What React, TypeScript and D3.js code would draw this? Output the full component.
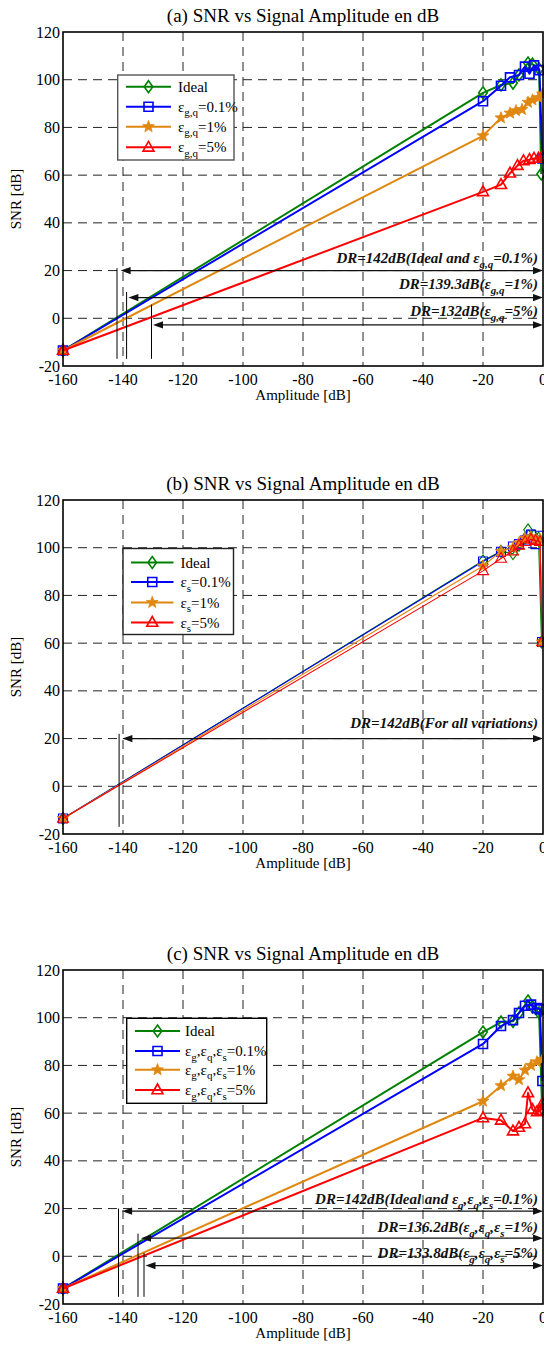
import React from "react";
import * as d3 from "d3";

const W = 544;
const H = 1345;
const FONT = "'Liberation Serif', 'Times New Roman', serif";

const X_DOMAIN = [-160, 0];
const Y_DOMAIN = [-20, 120];
const xTicks = [-160, -140, -120, -100, -80, -60, -40, -20, 0];
const yTicks = [-20, 0, 20, 40, 60, 80, 100, 120];
const xGrid = [-140, -120, -100, -80, -60, -40, -20];
const yGrid = [0, 20, 40, 60, 80, 100];

const titles = [
  "(a) SNR vs Signal Amplitude en dB",
  "(b) SNR vs Signal Amplitude en dB",
  "(c) SNR vs Signal Amplitude en dB",
];
const xLabel = "Amplitude [dB]";
const yLabel = "SNR [dB]";

// ---------- Panel (a) ----------
const aIdealX = [-160, -20, -14, -10, -8, -5, -3.5, -1.3, -0.6];
const aIdealY = [-13.5, 94.5, 97.8, 98.6, 102, 107, 106.5, 104.5, 60.5];
const aBlueX = [-160, -20, -14, -11, -8, -6, -4.5, -3, -1.2, -0.2];
const aBlueY = [-13.5, 91, 97.5, 101, 102, 105.5, 102.5, 106, 104, 67];
const aOrangeX = [-160, -20, -14, -11, -9, -7, -5, -3.5, -1.5, -0.2];
const aOrangeY = [-13.5, 76.5, 84, 86, 87, 87.5, 90.5, 91.5, 92.5, 94];
const aRedX = [-160, -20, -14, -11, -8.5, -6.5, -4.5, -3, -1.5, -0.2];
const aRedY = [-13.5, 53, 56, 60.8, 64, 66, 66.5, 67, 67, 68];

// ---------- Panel (b) ----------
const bIdealX = [-160, -20, -14, -10, -8, -6, -5, -3, -1.5, -0.5];
const bIdealY = [-13.5, 94.5, 98.5, 97.5, 101, 104, 107.5, 105, 104, 60.5];
const bBlueX = [-160, -20, -14, -10, -8, -6, -4, -2.5, -1, -0.3];
const bBlueY = [-13.5, 94.2, 98.3, 100.5, 101.5, 103, 105.5, 101.5, 105, 60.5];
const bOrangeX = [-160, -20, -14, -10, -8, -6, -4, -2.5, -1, -0.3];
const bOrangeY = [-13.5, 92.3, 98.5, 100, 102, 104, 104.5, 103.5, 103.5, 60.5];
const bRedX = [-160, -20, -14, -10, -8, -6, -4, -2.5, -1, -0.3];
const bRedY = [-13.5, 90.3, 95.5, 98.6, 101, 102.5, 103.5, 103, 102.5, 60.5];

// ---------- Panel (c) ----------
const cIdealX = [-160, -20, -14, -10, -8, -5, -3.5, -1.3, -0.3];
const cIdealY = [-13.5, 94, 98.2, 98.5, 102, 107, 104.5, 102, 62];
const cBlueX = [-160, -20, -14, -10, -8, -6, -4, -2, -1, -0.2];
const cBlueY = [-13.5, 89, 96.5, 99, 102, 105, 105.5, 104, 103.5, 73.5];
const cOrangeX = [-160, -20, -14, -10, -8, -6, -4, -2, -0.2];
const cOrangeY = [-13.5, 65, 71.5, 75.5, 74, 78, 80, 81.5, 82.5];
const cRedX = [-160, -20, -14, -10, -8, -6, -5, -3.5, -2, -0.8, -0.2];
const cRedY = [-13.5, 58, 57, 52.5, 54, 55.5, 68.5, 61.5, 60.5, 61, 64];

// ---------- Dynamic range annotations ----------
const aBarX = [-142, -138.8, -130.5];
const aBarTop = [21, 11, 5.7];
const aArrowY = [20, 8.7, -2.8];
const aArrowLeft = [-140.8, -138.2, -130];
const aLabelY = [23.1, 12.1, 1.0];

const bBarX = [-141.3];
const bBarTop = [22];
const bArrowY = [20];
const bArrowLeft = [-140.2];
const bLabelY = [24.4];

const cBarX = [-141.5, -135, -133];
const cBarTop = [20, 9.5, 1.4];
const cArrowY = [18.9, 7.6, -3.9];
const cArrowLeft = [-140.3, -134, -132.5];
const cLabelY = [22.1, 10.2, -0.7];
const barBottom = -17;

type Seg = { t: string; sub?: boolean };
const T = (t: string): Seg => ({ t });
const Sb = (t: string): Seg => ({ t, sub: true });

const aLabels: Seg[][] = [
  [T("DR=142dB(Ideal and "), T("ε"), Sb("g,q"), T("=0.1%)")],
  [T("DR=139.3dB("), T("ε"), Sb("g,q"), T("=1%)")],
  [T("DR=132dB("), T("ε"), Sb("g,q"), T("=5%)")],
];
const bLabels: Seg[][] = [[T("DR=142dB(For all variations)")]];
const cLabels: Seg[][] = [
  [T("DR=142dB(Ideal and "), T("ε"), Sb("g"), T(","), T("ε"), Sb("q"), T(","), T("ε"), Sb("s"), T("=0.1%)")],
  [T("DR=136.2dB("), T("ε"), Sb("g"), T(","), T("ε"), Sb("q"), T(","), T("ε"), Sb("s"), T("=1%)")],
  [T("DR=133.8dB("), T("ε"), Sb("g"), T(","), T("ε"), Sb("q"), T(","), T("ε"), Sb("s"), T("=5%)")],
];

const aLegend: Seg[][] = [
  [T("Ideal")],
  [T("ε"), Sb("g,q"), T("=0.1%")],
  [T("ε"), Sb("g,q"), T("=1%")],
  [T("ε"), Sb("g,q"), T("=5%")],
];
const bLegend: Seg[][] = [
  [T("Ideal")],
  [T("ε"), Sb("s"), T("=0.1%")],
  [T("ε"), Sb("s"), T("=1%")],
  [T("ε"), Sb("s"), T("=5%")],
];
const cLegend: Seg[][] = [
  [T("Ideal")],
  [T("ε"), Sb("g"), T(",ε"), Sb("q"), T(",ε"), Sb("s"), T("=0.1%")],
  [T("ε"), Sb("g"), T(",ε"), Sb("q"), T(",ε"), Sb("s"), T("=1%")],
  [T("ε"), Sb("g"), T(",ε"), Sb("q"), T(",ε"), Sb("s"), T("=5%")],
];

// ---------- styles ----------
const COLORS = ["#008000", "#0000ff", "#e0870f", "#ff0000"];
const MARKERS = ["diamond", "square", "star", "triangle"];

const PLOT_LEFT = 63;
const PLOT_RIGHT = 543;
const PLOT_H = 334;

type SeriesDef = { x: number[]; y: number[] };

const panels = [
  {
    top: 32,
    series: [
      { x: aIdealX, y: aIdealY },
      { x: aBlueX, y: aBlueY },
      { x: aOrangeX, y: aOrangeY },
      { x: aRedX, y: aRedY },
    ] as SeriesDef[],
    lw: 2,
    mw: 1.6,
    legend: { x: 117.7, y: 75, w: 116.3, h: 85, rows: [11.7, 31.7, 51.7, 72.3], lx1: 126, lx2: 171, tx: 178, border: "#555" },
    legendItems: aLegend,
    bars: aBarX, barTop: aBarTop, arrowY: aArrowY, arrowLeft: aArrowLeft, labelY: aLabelY, labels: aLabels,
  },
  {
    top: 500,
    series: [
      { x: bIdealX, y: bIdealY },
      { x: bBlueX, y: bBlueY },
      { x: bOrangeX, y: bOrangeY },
      { x: bRedX, y: bRedY },
    ] as SeriesDef[],
    lw: 1.1,
    mw: 1.1,
    legend: { x: 123, y: 548.5, w: 110.5, h: 86, rows: [14, 33.5, 54, 74], lx1: 131, lx2: 173.5, tx: 180.5, border: "#222" },
    legendItems: bLegend,
    bars: bBarX, barTop: bBarTop, arrowY: bArrowY, arrowLeft: bArrowLeft, labelY: bLabelY, labels: bLabels,
  },
  {
    top: 970,
    series: [
      { x: cIdealX, y: cIdealY },
      { x: cBlueX, y: cBlueY },
      { x: cOrangeX, y: cOrangeY },
      { x: cRedX, y: cRedY },
    ] as SeriesDef[],
    lw: 2,
    mw: 1.6,
    legend: { x: 126.7, y: 1018.3, w: 140, h: 85, rows: [12.7, 32.7, 51.5, 71.7], lx1: 135, lx2: 180, tx: 185, border: "#000" },
    legendItems: cLegend,
    bars: cBarX, barTop: cBarTop, arrowY: cArrowY, arrowLeft: cArrowLeft, labelY: cLabelY, labels: cLabels,
  },
];

function markerPath(kind: string): string {
  switch (kind) {
    case "diamond":
      return "M0,-6L4.3,0L0,6L-4.3,0Z";
    case "square":
      return "M-4.5,-4.5H4.5V4.5H-4.5Z";
    case "triangle":
      return "M0,-6L5.5,3.8H-5.5Z";
    case "star": {
      const pts: string[] = [];
      for (let i = 0; i < 10; i++) {
        const r = i % 2 === 0 ? 6.2 : 2.6;
        const a = -Math.PI / 2 + (i * Math.PI) / 5;
        pts.push(`${(r * Math.cos(a)).toFixed(2)},${(r * Math.sin(a)).toFixed(2)}`);
      }
      return "M" + pts.join("L") + "Z";
    }
  }
  return "";
}

function Marker({ kind, color, cx, cy, sw }: { kind: string; color: string; cx: number; cy: number; sw: number }) {
  const filled = kind === "star";
  return (
    <path
      d={markerPath(kind)}
      transform={`translate(${cx},${cy})`}
      fill={filled ? color : "none"}
      stroke={color}
      strokeWidth={filled ? 0.8 : sw}
      strokeLinejoin="miter"
    />
  );
}

function RichText({
  x, y, segs, size, subSize, subDy, anchor, bold, italic, fill,
}: {
  x: number; y: number; segs: Seg[]; size: number; subSize: number; subDy: number;
  anchor: string; bold?: boolean; italic?: boolean; fill: string;
}) {
  let cur = 0;
  return (
    <text
      x={x}
      y={y}
      fontFamily={FONT}
      fontSize={size}
      textAnchor={anchor as any}
      fontWeight={bold ? "bold" : "normal"}
      fontStyle={italic ? "italic" : "normal"}
      fill={fill}
    >
      {segs.map((s, i) => {
        const target = s.sub ? subDy : 0;
        const dy = target - cur;
        cur = target;
        return (
          <tspan key={i} dy={dy} fontSize={s.sub ? subSize : size}>
            {s.t}
          </tspan>
        );
      })}
    </text>
  );
}

function Panel({ p, idx }: { p: (typeof panels)[number]; idx: number }) {
  const x = d3.scaleLinear().domain(X_DOMAIN).range([PLOT_LEFT, PLOT_RIGHT]);
  const y = d3.scaleLinear().domain(Y_DOMAIN).range([p.top + PLOT_H, p.top]);
  const line = d3
    .line<[number, number]>()
    .x((d) => x(d[0]))
    .y((d) => y(d[1]));
  const bottom = p.top + PLOT_H;
  const midX = (PLOT_LEFT + PLOT_RIGHT) / 2;
  const L = p.legend;
  const ah = 10; // arrow head length
  const aw = 3.6; // half width

  return (
    <g>
      {/* title */}
      <text x={midX} y={p.top - 10.5} textAnchor="middle" fontFamily={FONT} fontSize={19} fill="#000">
        {titles[idx]}
      </text>
      {/* grid */}
      {xGrid.map((v) => (
        <line key={"gx" + v} x1={x(v)} x2={x(v)} y1={p.top} y2={bottom} stroke="#222" strokeWidth={1} strokeDasharray="9,6" />
      ))}
      {yGrid.map((v) => (
        <line key={"gy" + v} x1={PLOT_LEFT} x2={PLOT_RIGHT} y1={y(v)} y2={y(v)} stroke="#222" strokeWidth={1} strokeDasharray="9,6" />
      ))}
      {/* tick labels */}
      {yTicks.map((v) => (
        <text key={"ty" + v} x={PLOT_LEFT - 3} y={y(v) + 5.5} textAnchor="end" fontFamily={FONT} fontSize={16} fill="#000">
          {v}
        </text>
      ))}
      {xTicks.map((v) => (
        <text key={"tx" + v} x={x(v)} y={bottom + 19} textAnchor="middle" fontFamily={FONT} fontSize={16} fill="#000">
          {v}
        </text>
      ))}
      <text x={midX} y={bottom + 33.5} textAnchor="middle" fontFamily={FONT} fontSize={15} fill="#000">
        {xLabel}
      </text>
      <text
        transform={`translate(21,${(p.top + bottom) / 2}) rotate(-90)`}
        textAnchor="middle"
        fontFamily={FONT}
        fontSize={15}
        fill="#000"
      >
        {yLabel}
      </text>

      {/* series */}
      {p.series.map((s, si) => {
        const pts: [number, number][] = s.x.map((xv, i) => [xv, s.y[i]]);
        return (
          <g key={"s" + si}>
            <path d={line(pts) || ""} fill="none" stroke={COLORS[si]} strokeWidth={p.lw} strokeLinejoin="round" />
            {pts.map((d, i) => (
              <Marker key={i} kind={MARKERS[si]} color={COLORS[si]} cx={x(d[0])} cy={y(d[1])} sw={p.mw} />
            ))}
          </g>
        );
      })}

      {/* DR annotations */}
      {p.bars.map((b, i) => (
        <line key={"bar" + i} x1={x(b)} x2={x(b)} y1={y(p.barTop[i])} y2={y(barBottom)} stroke="#000" strokeWidth={1} />
      ))}
      {p.arrowY.map((av, i) => {
        const yy = y(av);
        const xl = x(p.arrowLeft[i]);
        const xr = PLOT_RIGHT;
        return (
          <g key={"arr" + i}>
            <line x1={xl + ah - 1} x2={xr - ah + 1} y1={yy} y2={yy} stroke="#111" strokeWidth={1.3} />
            <path d={`M${xl},${yy}L${xl + ah},${yy - aw}L${xl + ah},${yy + aw}Z`} fill="#111" />
            <path d={`M${xr},${yy}L${xr - ah},${yy - aw}L${xr - ah},${yy + aw}Z`} fill="#111" />
          </g>
        );
      })}
      {p.labels.map((segs, i) => (
        <RichText
          key={"lab" + i}
          x={538}
          y={y(p.labelY[i])}
          segs={segs}
          size={15}
          subSize={11}
          subDy={5}
          anchor="end"
          bold
          italic
          fill="#111"
        />
      ))}

      {/* frame */}
      <rect x={PLOT_LEFT} y={p.top} width={PLOT_RIGHT - PLOT_LEFT} height={PLOT_H} fill="none" stroke="#000" strokeWidth={1.6} />

      {/* legend */}
      <rect x={L.x} y={L.y} width={L.w} height={L.h} fill="#fff" stroke={L.border} strokeWidth={1.4} />
      {p.legendItems.map((segs, i) => {
        const ly = L.y + L.rows[i];
        return (
          <g key={"leg" + i}>
            <line x1={L.lx1} x2={L.lx2} y1={ly} y2={ly} stroke={COLORS[i]} strokeWidth={2} />
            <Marker kind={MARKERS[i]} color={COLORS[i]} cx={(L.lx1 + L.lx2) / 2} cy={ly} sw={1.6} />
            <RichText
              x={L.tx}
              y={ly + 5}
              segs={segs}
              size={15}
              subSize={11}
              subDy={4.5}
              anchor="start"
              fill="#000"
            />
          </g>
        );
      })}
    </g>
  );
}

export default function App() {
  return (
    <svg
      width={W}
      height={H}
      viewBox={`0 0 ${W} ${H}`}
      style={{ position: "absolute", left: 0, top: 0, background: "#fff", overflow: "hidden" }}
    >
      <rect x={0} y={0} width={W} height={H} fill="#fff" />
      {panels.map((p, i) => (
        <Panel key={i} p={p} idx={i} />
      ))}
    </svg>
  );
}
